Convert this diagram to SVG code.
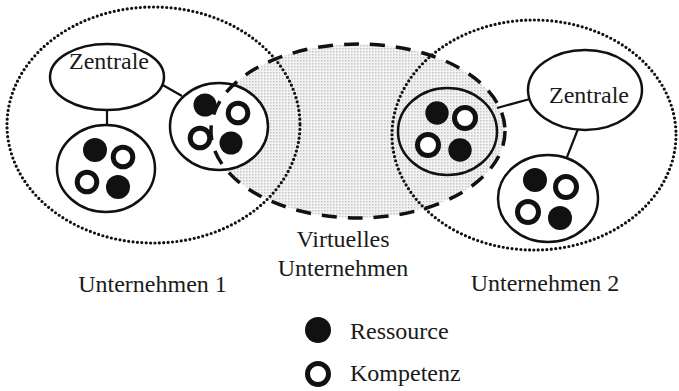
<svg xmlns="http://www.w3.org/2000/svg" width="679" height="391" viewBox="0 0 679 391">
<defs>
<pattern id="stip" width="3" height="3" patternUnits="userSpaceOnUse">
<rect width="3" height="3" fill="#f3f3f3"/>
<rect width="1.5" height="1.5" fill="#c4c4c4"/>
</pattern>
</defs>
<style>
.dot{fill:none;stroke:#111;stroke-width:3.2;stroke-dasharray:0 4.4;stroke-linecap:round}
.dash{fill:none;stroke:#111;stroke-width:3.5;stroke-dasharray:15 11}
.node{fill:#fff;stroke:#111;stroke-width:2.5}
.clear{fill:none;stroke:#111;stroke-width:2.5}
.res{fill:#111}
.komp{fill:#fff;stroke:#111;stroke-width:5}
.con{stroke:#111;stroke-width:2.2;fill:none}
text{font-family:"Liberation Serif","Times New Roman",serif;font-size:24px;fill:#1a1a1a}
.c{text-anchor:middle}
</style>
<g id="virtuell-fill">
<ellipse cx="358" cy="131" rx="147" ry="87" fill="url(#stip)"/>
</g>
<g id="unternehmen1">
<ellipse class="dot" cx="153.5" cy="125" rx="146.5" ry="118"/>
<text class="c" x="152.5" y="292">Unternehmen 1</text>
</g>
<g id="unternehmen2">
<ellipse class="dot" cx="534" cy="135" rx="142" ry="115"/>
<text class="c" x="545" y="291">Unternehmen 2</text>
</g>
<g id="connectors">
<line class="con" x1="107" y1="110" x2="107" y2="125"/>
<line class="con" x1="161" y1="84" x2="182" y2="96"/>
<line class="con" x1="497" y1="108" x2="530" y2="99"/>
<line class="con" x1="578" y1="129" x2="567" y2="157"/>
</g>
<g id="zentrale1">
<ellipse class="node" cx="107" cy="77" rx="57" ry="33"/>
<text class="c" x="109" y="69">Zentrale</text>
</g>
<g id="pool1a">
<ellipse class="node" cx="106" cy="168.5" rx="49" ry="43.5"/>
<circle class="res" cx="95" cy="150" r="12"/>
<circle class="komp" cx="123" cy="157" r="9.8"/>
<circle class="komp" cx="87" cy="182" r="9.8"/>
<circle class="res" cx="118" cy="187" r="12"/>
</g>
<g id="pool1b">
<ellipse class="node" cx="219" cy="126.5" rx="49" ry="43.5"/>
<circle class="res" cx="205" cy="105" r="11.5"/>
<circle class="komp" cx="238" cy="113" r="9.8"/>
<circle class="komp" cx="200" cy="138" r="9.8"/>
<circle class="res" cx="231" cy="143" r="11.5"/>
</g>
<g id="zentrale2">
<ellipse class="node" cx="585" cy="90" rx="57" ry="40"/>
<text class="c" x="589" y="103">Zentrale</text>
</g>
<g id="pool2a">
<ellipse class="clear" cx="447.5" cy="131.5" rx="49.5" ry="43.5"/>
<circle class="res" cx="437" cy="113" r="11.7"/>
<circle class="komp" cx="465" cy="118" r="10.5"/>
<circle class="komp" cx="428" cy="145" r="10.5"/>
<circle class="res" cx="460" cy="150" r="11.7"/>
</g>
<g id="pool2b">
<ellipse class="node" cx="548" cy="198.5" rx="50" ry="43.5"/>
<circle class="res" cx="535" cy="180" r="12"/>
<circle class="komp" cx="566" cy="187" r="10.5"/>
<circle class="komp" cx="528" cy="212" r="10.5"/>
<circle class="res" cx="560" cy="218" r="12"/>
</g>
<g id="virtuell">
<ellipse class="dash" cx="358" cy="131" rx="147" ry="87"/>
<text class="c" x="343" y="247">Virtuelles</text>
<text class="c" x="343" y="276">Unternehmen</text>
</g>
<g id="legende">
<circle class="res" cx="318" cy="330" r="13"/>
<text x="350" y="339">Ressource</text>
<circle class="komp" cx="318" cy="374" r="10.5" stroke-width="6"/>
<text x="350" y="381">Kompetenz</text>
</g>
</svg>
